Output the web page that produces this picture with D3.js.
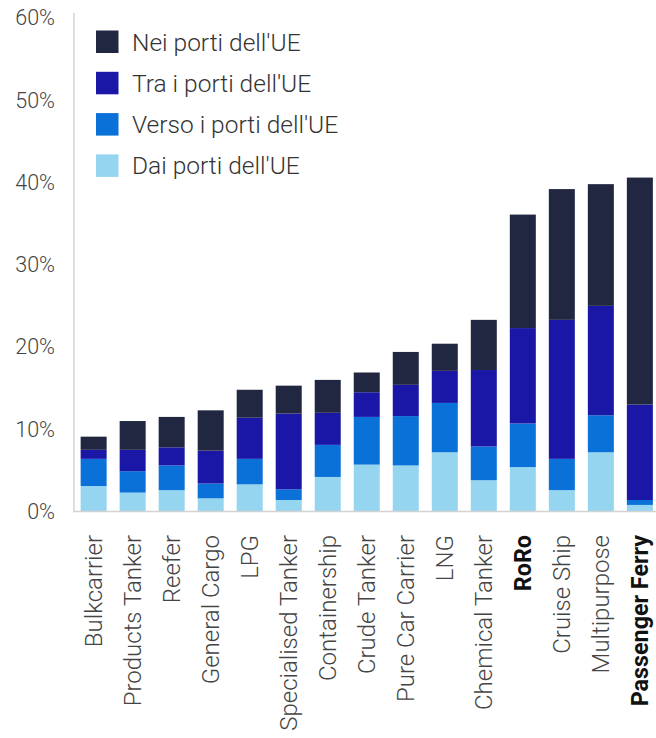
<!DOCTYPE html>
<html><head><meta charset="utf-8">
<script src="https://cdn.jsdelivr.net/npm/d3@7"></script>
<style>
html,body{margin:0;padding:0;background:#fff;}
svg{display:block;font-family:Roboto, "Noto Sans", sans-serif;}
</style></head>
<body>
<svg id="chart" width="656" height="738"></svg>
<script>
const categories = ["Bulkcarrier","Products Tanker","Reefer","General Cargo","LPG","Specialised Tanker","Containership","Crude Tanker","Pure Car Carrier","LNG","Chemical Tanker","RoRo","Cruise Ship","Multipurpose","Passenger Ferry"];
const boldCategories = ["RoRo","Passenger Ferry"];
const seriesNames = ["Dai porti dell'UE","Verso i porti dell'UE","Tra i porti dell'UE","Nei porti dell'UE"];
const dai   = [3.1, 2.3, 2.6, 1.6, 3.3, 1.4, 4.2, 5.7, 5.6, 7.2, 3.8, 5.4, 2.6, 7.2, 0.8];
const verso = [3.3, 2.6, 3.0, 1.8, 3.1, 1.3, 3.9, 5.8, 6.0, 6.0, 4.1, 5.3, 3.8, 4.5, 0.6];
const tra   = [1.1, 2.6, 2.2, 4.0, 5.0, 9.2, 3.9, 3.0, 3.8, 3.9, 9.3, 11.6, 16.9, 13.3, 11.6];
const nei   = [1.6, 3.5, 3.7, 4.9, 3.4, 3.4, 4.0, 2.4, 4.0, 3.3, 6.1, 13.8, 15.9, 14.8, 27.6];
const yTicks = [0, 10, 20, 30, 40, 50, 60];
const colors = ["#95d5f0", "#0a71d8", "#1b17a6", "#222741"];

const svg = d3.select("#chart");
const rows = categories.map((c, i) => ({cat: c, s0: dai[i], s1: verso[i], s2: tra[i], s3: nei[i]}));
const stack = d3.stack().keys(["s0","s1","s2","s3"])(rows);

const x = d3.scaleBand().domain(categories).range([74, 659.5]).paddingInner(1/3).paddingOuter(0.17);
const y = d3.scaleLinear().domain([0, 60]).range([511.5, 18]);

svg.append("line").attr("x1", 74).attr("x2", 74).attr("y1", 13).attr("y2", 511.5)
  .attr("stroke", "#d3d3d3").attr("stroke-width", 1.5);

svg.append("g").selectAll("g").data(stack).join("g")
  .attr("fill", (d, i) => colors[i])
  .selectAll("rect").data(d => d).join("rect")
  .attr("x", d => x(d.data.cat))
  .attr("width", x.bandwidth())
  .attr("y", d => y(d[1]))
  .attr("height", d => y(d[0]) - y(d[1]));

svg.append("line").attr("x1", 73).attr("x2", 656).attr("y1", 511.5).attr("y2", 511.5)
  .attr("stroke", "#d3d3d3").attr("stroke-width", 1.5);

const yAxis = svg.append("g").attr("transform", "translate(74,0)")
  .call(d3.axisLeft(y).tickValues(yTicks).tickFormat(d => d + "%").tickSize(0).tickPadding(19));
yAxis.select(".domain").remove();
yAxis.selectAll("text").attr("font-size", 21.5).attr("fill", "#444").attr("font-family", "Roboto").attr("font-weight", 300);

svg.append("g").selectAll("text").data(categories).join("text")
  .attr("transform", d => `translate(${x(d) + x.bandwidth()/2},535) rotate(-90)`)
  .attr("text-anchor", "end")
  .attr("dy", "0.35em")
  .attr("font-size", d => boldCategories.includes(d) ? 23.3 : 24)
  .attr("font-weight", d => boldCategories.includes(d) ? 700 : 300)
  .attr("fill", d => boldCategories.includes(d) ? "#111" : "#444")
  .text(d => d);

const legendOrder = [3, 2, 1, 0];
const lg = svg.append("g").selectAll("g").data(legendOrder).join("g")
  .attr("transform", (d, i) => `translate(96,${42 + i * 41.3})`);
lg.append("rect").attr("x", 0).attr("y", -11.5).attr("width", 22.5).attr("height", 22.5)
  .attr("fill", d => colors[d]);
lg.append("text").attr("x", 36).attr("dy", "0.35em").attr("font-size", 24.5)
  .attr("font-weight", 300).attr("fill", "#333").text(d => seriesNames[d]);
</script>
</body></html>
